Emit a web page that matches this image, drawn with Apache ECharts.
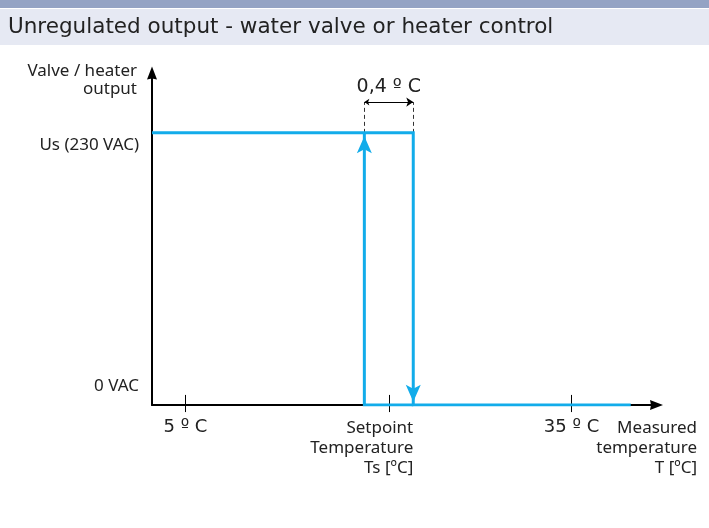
<!DOCTYPE html>
<html>
<head>
<meta charset="utf-8">
<script src="https://cdn.jsdelivr.net/npm/echarts@6/dist/echarts.min.js"></script>
<style>
  html, body { margin: 0; padding: 0; background: #fff; }
  #chart { width: 709px; height: 528px; }
</style>
</head>
<body>
<div id="chart"></div>
<script>
// temperatures in ºC, output as a share of Us (schematic, not to scale)
const setpoint = 20.8;
const switchOn = 18.9;
const switchOff = 22.7;
const tickValues = [5, setpoint, 35];
const tickLabels = { 5: '5 º C', 35: '35 º C' };
const levelValues = [0, 1];
const levelLabels = { 0: '0 VAC', 1: 'Us (230 VAC)' };
const fallingPath = [[2.4, 1], [switchOff, 1], [switchOff, 0], [39.6, 0]];
const risingPath = [[switchOff, 0], [switchOn, 0], [switchOn, 1]];
const hysteresisLabel = '0,4 º C';
const setpointLabel = 'Setpoint\nTemperature\nTs [ºC]';
const measuredLabel = 'Measured\ntemperature\nT [ºC]';

const blue = '#12acea';
const textColor = '#222';
const labelFont = 'Noto Sans';
const numFont = 'DejaVu Sans';
const axisArrow = 'path://M5 0L10 13L5 12L0 13Z';
const edgeArrow = 'path://M7.5 0L15 17L7.5 13L0 17Z';

const chart = echarts.init(document.getElementById('chart'));

chart.setOption({
  animation: false,
  backgroundColor: '#fff',
  title: {
    text: 'Unregulated output - water valve or heater control',
    left: 8,
    top: 16,
    padding: 0,
    textStyle: { fontFamily: numFont, fontSize: 21.5, fontWeight: 'normal', color: textColor }
  },
  graphic: [
    { type: 'rect', z: -10, shape: { x: 0, y: 0, width: 709, height: 8 }, style: { fill: '#94a3c4' } },
    { type: 'rect', z: -10, shape: { x: 0, y: 9, width: 709, height: 36 }, style: { fill: '#e6e9f3' } }
  ],
  grid: { left: 152, right: 52.5, top: 73, bottom: 123 },
  xAxis: {
    type: 'value',
    min: 2.4,
    max: 41.6,
    splitLine: { show: false },
    axisTick: { show: false },
    axisLine: {
      onZero: false,
      symbol: ['none', axisArrow],
      symbolSize: [10, 13],
      lineStyle: { color: '#000', width: 2 }
    },
    axisLabel: {
      customValues: [5, 35],
      formatter: (v) => tickLabels[v] || '',
      margin: 13,
      fontFamily: numFont,
      fontSize: 18,
      color: textColor
    }
  },
  yAxis: {
    type: 'value',
    min: 0,
    max: 1.22,
    splitLine: { show: false },
    axisTick: { show: false },
    name: 'Valve / heater\noutput',
    nameLocation: 'end',
    nameGap: 11,
    nameTextStyle: {
      align: 'right', verticalAlign: 'top', padding: [0, 15, 0, 0],
      fontFamily: labelFont, fontSize: 17, lineHeight: 18, color: textColor
    },
    axisLine: {
      onZero: false,
      symbol: ['none', axisArrow],
      symbolSize: [10, 13],
      lineStyle: { color: '#000', width: 2 }
    },
    axisLabel: {
      customValues: levelValues,
      margin: 13,
      formatter: (v) => (v === 0 ? '{lo|' : '{hi|') + levelLabels[v] + '}',
      rich: {
        lo: { fontFamily: labelFont, fontSize: 17, color: textColor, padding: [0, 0, 38, 0] },
        hi: { fontFamily: labelFont, fontSize: 17, color: textColor, padding: [24, 0, 0, 0] }
      }
    }
  },
  series: [
    {
      name: 'ticks',
      type: 'lines',
      coordinateSystem: 'cartesian2d',
      clip: false,
      silent: true,
      lineStyle: { color: '#000', width: 1, opacity: 1 },
      data: tickValues.map((v) => ({ coords: [[v, -0.026], [v, 0.037]] }))
    },
    {
      name: 'falling',
      type: 'line',
      data: fallingPath,
      showSymbol: false,
      lineStyle: { color: blue, width: 3, join: 'miter' },
      z: 3
    },
    {
      name: 'rising',
      type: 'line',
      data: risingPath,
      showSymbol: false,
      lineStyle: { color: blue, width: 3, join: 'miter' },
      z: 3
    },
    {
      name: 'edge arrows',
      type: 'scatter',
      clip: false,
      symbol: edgeArrow,
      symbolSize: [15, 17],
      symbolRotate: (val) => val[2],
      itemStyle: { color: blue, opacity: 1 },
      data: [[switchOn, 0.956, 0], [switchOff, 0.043, 180]],
      z: 4
    },
    {
      name: 'guides',
      type: 'lines',
      coordinateSystem: 'cartesian2d',
      clip: false,
      silent: true,
      lineStyle: { color: '#333', width: 1, type: [4, 3], opacity: 1 },
      data: [
        { coords: [[switchOn, 1], [switchOn, 1.113]] },
        { coords: [[switchOff, 1], [switchOff, 1.113]] }
      ]
    },
    {
      name: 'hysteresis',
      type: 'lines',
      coordinateSystem: 'cartesian2d',
      clip: false,
      silent: true,
      symbol: ['arrow', 'arrow'],
      symbolSize: [5, 7],
      lineStyle: { color: '#000', width: 1, opacity: 1 },
      label: {
        show: true,
        position: 'middle',
        distance: 6,
        formatter: hysteresisLabel,
        fontFamily: numFont,
        fontSize: 19,
        color: textColor
      },
      data: [{ coords: [[switchOn, 1.113], [switchOff, 1.113]] }]
    },
    {
      name: 'notes',
      type: 'scatter',
      clip: false,
      silent: true,
      symbolSize: 0,
      itemStyle: { opacity: 1 },
      label: {
        show: true,
        position: 'bottom',
        distance: 13,
        align: 'right',
        verticalAlign: 'top',
        fontFamily: labelFont,
        fontSize: 17,
        lineHeight: 20,
        color: textColor
      },
      data: [
        { value: [switchOff, 0], label: { formatter: setpointLabel } },
        { value: [44.75, 0], label: { formatter: measuredLabel } }
      ]
    }
  ]
});
</script>
</body>
</html>
